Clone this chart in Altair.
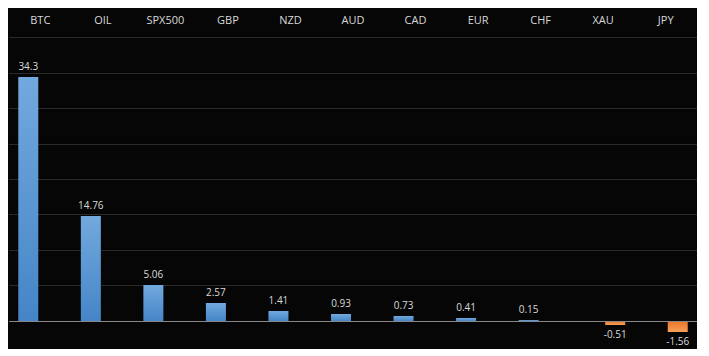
import altair as alt
import pandas as pd

categories = ["BTC", "OIL", "SPX500", "GBP", "NZD", "AUD", "CAD", "EUR", "CHF", "XAU", "JPY"]
values = [34.3, 14.76, 5.06, 2.57, 1.41, 0.93, 0.73, 0.41, 0.15, -0.51, -1.56]
labels = ["34.3", "14.76", "5.06", "2.57", "1.41", "0.93", "0.73", "0.41", "0.15", "-0.51", "-1.56"]
grid_values = [5, 10, 15, 20, 25, 30, 35, 40]

df = pd.DataFrame({"cat": categories, "val": values, "label": labels})
grid_df = pd.DataFrame({"g": grid_values})
zero_df = pd.DataFrame({"z": [0]})

FONT = "Open Sans"
TXT = "#d9d9d9"

yscale = alt.Scale(domain=[-4, 40], nice=False, zero=False, round=True)

x = alt.X(
    "cat:N",
    sort=categories,
    scale=alt.Scale(paddingInner=0, paddingOuter=0),
    axis=alt.Axis(
        orient="top", title=None, labelAngle=0, domain=False, ticks=False,
        labelPadding=11, labelColor=TXT, labelFont=FONT, labelFontSize=11,
        grid=False,
    ),
)
y = alt.Y("val:Q", scale=yscale, axis=None)

blue = alt.Gradient(
    gradient="linear",
    stops=[alt.GradientStop(color="#72a9de", offset=0),
           alt.GradientStop(color="#4585c7", offset=1)],
    x1=0, x2=0, y1=0, y2=1,
)
orange = alt.Gradient(
    gradient="linear",
    stops=[alt.GradientStop(color="#ea7428", offset=0),
           alt.GradientStop(color="#f7a058", offset=1)],
    x1=0, x2=0, y1=0, y2=1,
)

base = alt.Chart(df)

grid = alt.Chart(grid_df).mark_rule(color="#2b2b2b", strokeWidth=1, yOffset=0.5).encode(
    y=alt.Y("g:Q", scale=yscale, axis=None)
)

pos_bars = base.transform_filter("datum.val >= 0").mark_bar(
    size=20, xOffset=-12, color=blue
).encode(x=x, y=y, y2=alt.datum(0))

neg_bars = base.transform_filter("datum.val < 0").mark_bar(
    size=20, xOffset=12, color=orange
).encode(x=x, y=y, y2=alt.datum(0))

zero_line = alt.Chart(zero_df).mark_rule(color="#8a8a8a", strokeWidth=1, yOffset=0.5).encode(
    y=alt.Y("z:Q", scale=yscale, axis=None)
)

pos_text = base.transform_filter("datum.val >= 0").mark_text(
    baseline="bottom", dy=-5, xOffset=-12, color=TXT, font=FONT, fontSize=10
).encode(x=x, y=y, text="label:N")

neg_text = base.transform_filter("datum.val < 0").mark_text(
    baseline="top", dy=5, xOffset=12, color=TXT, font=FONT, fontSize=10
).encode(x=x, y=y, text="label:N")

chart = alt.layer(grid, pos_bars, neg_bars, zero_line, pos_text, neg_text).properties(
    width=688,
    height=312.4,
    autosize=alt.AutoSizeParams(type="none"),
    padding={"left": 1, "top": 29, "right": 0, "bottom": 0},
    background="#060606",
).configure_view(stroke=None)

chart.save("out.html", embed_options={"renderer": "svg", "actions": False})
